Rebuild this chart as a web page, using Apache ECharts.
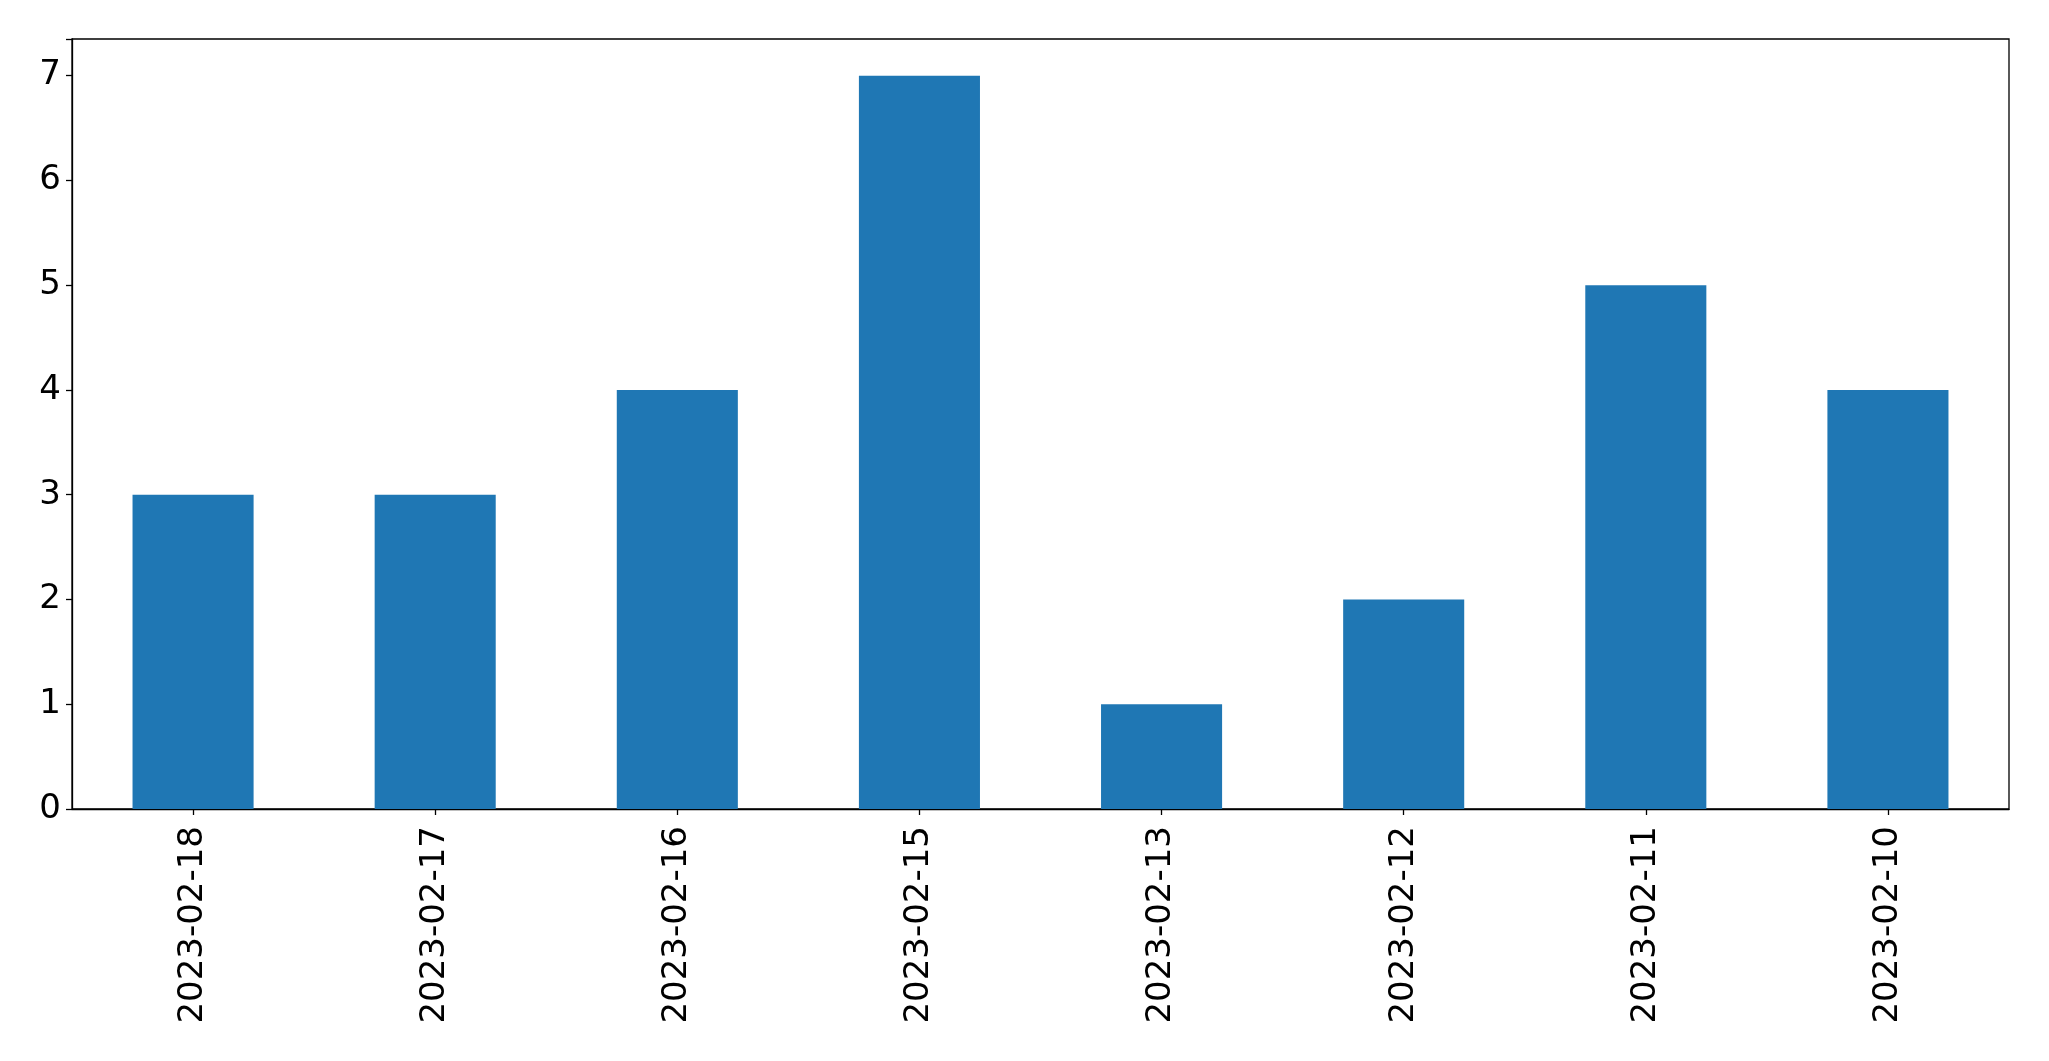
<!DOCTYPE html>
<html>
<head>
<meta charset="utf-8">
<script src="https://cdn.jsdelivr.net/npm/echarts@6/dist/echarts.min.js"></script>
<style>
html,body{margin:0;padding:0;background:#fff;}
#chart{width:2049px;height:1061px;}
</style>
</head>
<body>
<div id="chart"></div>
<script>
const categories = ["2023-02-18","2023-02-17","2023-02-16","2023-02-15","2023-02-13","2023-02-12","2023-02-11","2023-02-10"];
const values = [3,3,4,7,1,2,5,4];
const yTicks = [0,1,2,3,4,5,6,7];

const chart = echarts.init(document.getElementById('chart'), null, {renderer:'canvas'});
chart.setOption({
  animation: false,
  grid: {
    left: 72, top: 39, width: 2009-72, height: 809-39,
    show: true, borderColor: '#000', borderWidth: 1.3, backgroundColor: 'transparent'
  },
  xAxis: {
    type: 'category',
    data: categories,
    axisLine: {show: true, lineStyle: {color: '#000', width: 1.3}},
    axisTick: {show: true, alignWithLabel: true, length: 6, lineStyle: {color: '#000', width: 1.3}},
    axisLabel: {rotate: 90, margin: 17, fontSize: 34, color: '#000', fontFamily: 'DejaVu Sans', interval: 0},
    splitLine: {show: false}
  },
  yAxis: {
    type: 'value',
    min: 0, max: 7.35, interval: 1,
    axisLine: {show: true, lineStyle: {color: '#000', width: 1.3}},
    axisTick: {show: true, length: 6, lineStyle: {color: '#000', width: 1.3}},
    axisLabel: {margin: 11, fontSize: 34, color: '#000', fontFamily: 'DejaVu Sans',
      formatter: function(v){ return yTicks.indexOf(v) >= 0 ? String(v) : ''; }},
    splitLine: {show: false}
  },
  series: [{
    type: 'bar',
    data: values,
    barWidth: '50%',
    itemStyle: {color: '#1f77b4'}
  }]
});
</script>
</body>
</html>
